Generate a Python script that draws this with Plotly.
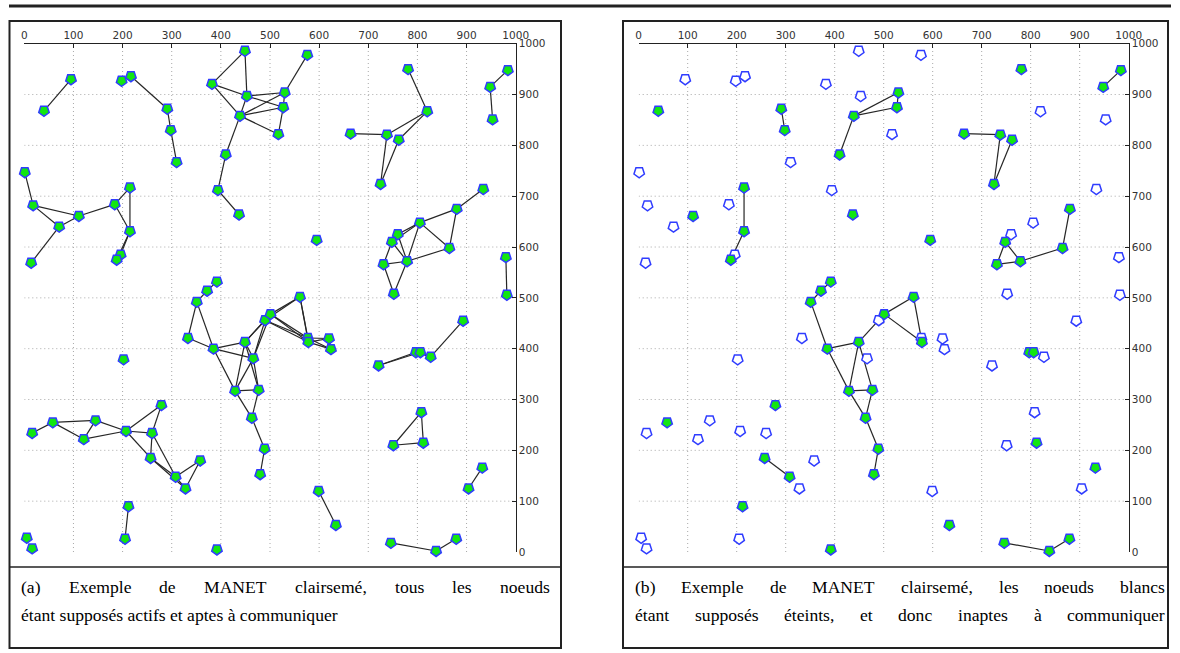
import plotly.graph_objects as go

W, H = 1180, 653

# ---------------- data: node positions (ids 1..100) ----------------
node_x = [449, 95, 40, 198, 217, 291, 298, 310, 382, 453,
          439, 517, 410, 394, 1, 215, 576, 530, 527, 781,
          820, 664, 738, 762, 725, 948, 984, 953, 934, 437,
          18, 111, 184, 215, 71, 14, 196, 188, 392, 372,
          351, 333, 385, 449, 466, 490, 501, 202, 880, 805,
          760, 748, 865, 731, 779, 752, 595, 980, 982, 561,
          577, 578, 620, 624, 721, 797, 806, 827, 893, 429,
          477, 463, 489, 480, 279, 16, 58, 145, 121, 207,
          260, 257, 308, 328, 358, 212, 205, 5, 16, 392,
          808, 751, 812, 932, 904, 599, 634, 746, 838, 879]
node_y = [986, 930, 868, 927, 936, 872, 830, 767, 921, 897,
          858, 822, 782, 712, 747, 717, 978, 904, 875, 950,
          867, 823, 821, 811, 724, 915, 948, 851, 714, 664,
          682, 661, 684, 631, 640, 569, 585, 575, 532, 514,
          492, 421, 400, 413, 381, 456, 468, 379, 675, 648,
          625, 610, 598, 566, 572, 508, 614, 580, 506, 502,
          421, 413, 420, 399, 367, 393, 393, 384, 455, 317,
          319, 264, 203, 153, 289, 234, 255, 259, 222, 238,
          234, 185, 148, 125, 180, 90, 26, 28, 7, 5,
          275, 210, 215, 166, 125, 120, 53, 18, 2, 26]

# nodes still switched on in panel (b)
active_ids = [3, 6, 7, 11, 13, 16, 18, 19, 20, 22, 23, 24, 25, 26, 27, 30,
              32, 34, 38, 39, 40, 41, 43, 44, 47, 49, 52, 53, 54, 55, 57,
              60, 62, 66, 67, 70, 71, 72, 73, 74, 75, 77, 82, 83, 86, 90,
              93, 94, 97, 98, 99, 100]

# links (pairs of node ids)
edges = [(2, 3), (5, 6), (6, 7), (7, 8),
         (1, 9), (1, 10), (9, 10), (9, 11), (10, 11), (11, 12), (11, 13),
         (13, 14), (10, 18), (10, 19), (11, 18), (11, 19), (18, 19),
         (17, 18), (19, 12), (14, 30),
         (20, 21), (21, 23), (21, 24), (22, 23), (23, 25), (24, 25),
         (26, 27), (26, 28),
         (15, 31), (31, 35), (31, 32), (35, 32), (35, 36), (32, 33),
         (33, 16), (33, 34), (16, 34), (34, 37), (34, 38), (37, 38),
         (39, 40), (40, 41), (41, 42), (41, 43), (42, 43), (43, 44),
         (43, 45), (44, 45), (44, 46), (44, 47), (45, 46), (45, 47),
         (46, 47), (47, 60), (46, 60), (60, 61), (60, 62), (46, 61),
         (46, 62), (47, 61), (47, 62), (61, 62), (61, 63), (62, 63),
         (62, 64), (61, 64), (63, 64),
         (43, 70), (44, 70), (44, 71), (45, 70), (45, 71), (70, 71),
         (70, 72), (71, 72), (72, 73), (73, 74),
         (29, 49), (49, 50), (49, 53), (50, 53), (50, 51), (50, 52),
         (50, 55), (51, 52), (51, 55), (52, 54), (52, 55), (54, 55),
         (54, 56), (55, 56), (55, 53), (58, 59),
         (65, 66), (65, 67), (66, 67), (66, 68), (67, 68), (68, 69),
         (91, 92), (91, 93), (92, 93), (94, 95), (96, 97), (98, 99),
         (99, 100), (86, 87),
         (76, 77), (77, 78), (77, 79), (78, 79), (78, 80), (79, 80),
         (80, 75), (80, 81), (80, 82), (75, 81), (81, 82), (81, 83),
         (82, 83), (82, 84), (83, 84), (83, 85), (84, 85)]

tick_vals = [0, 100, 200, 300, 400, 500, 600, 700, 800, 900, 1000]
grid_vals = [100, 200, 300, 400, 500, 600, 700, 800, 900]

caption_a = ["(a) Exemple de MANET clairsemé, tous les noeuds",
             "étant supposés actifs et aptes à communiquer"]
caption_b = ["(b) Exemple de MANET clairsemé, les noeuds blancs",
             "étant supposés éteints, et donc inaptes à communiquer"]

# ---------------- styling ----------------
GREEN = "#12e612"
BLUE = "#2f3cff"
EDGE = "#262626"

fig = go.Figure()


def px_x(p):
    return p / W


def px_y(p):
    return 1 - p / H


ydom = [px_y(552), px_y(43.7)]
xdom_a = [px_x(24.3), px_x(515.7)]
xdom_b = [px_x(638.7), px_x(1128.7)]

active_set = set(active_ids)


def edge_xy(only_active):
    xs, ys = [], []
    for a, b in edges:
        if only_active and (a not in active_set or b not in active_set):
            continue
        xs += [node_x[a - 1], node_x[b - 1], None]
        ys += [node_y[a - 1], node_y[b - 1], None]
    return xs, ys


for panel, (xa, ya) in enumerate([("x", "y"), ("x2", "y2")]):
    only_active = panel == 1
    ex, ey = edge_xy(only_active)
    fig.add_trace(go.Scatter(x=ex, y=ey, mode="lines", xaxis=xa, yaxis=ya,
                             line=dict(color=EDGE, width=1.2),
                             hoverinfo="skip", showlegend=False, cliponaxis=False))
    fills = []
    for i in range(len(node_x)):
        on = (not only_active) or ((i + 1) in active_set)
        fills.append(GREEN if on else "white")
    fig.add_trace(go.Scatter(x=node_x, y=node_y, mode="markers", xaxis=xa, yaxis=ya,
                             marker=dict(symbol="pentagon", angle=180, size=11,
                                         color=fills,
                                         line=dict(color=BLUE, width=1.5)),
                             showlegend=False, cliponaxis=False))

axis_common = dict(range=[0, 1000], tickvals=tick_vals,
                   ticktext=[str(v) for v in tick_vals], automargin=False,
                   showgrid=False, zeroline=False, showline=True,
                   linecolor="#222", linewidth=1, ticks="inside", ticklen=4,
                   tickcolor="#222", fixedrange=True,
                   tickfont=dict(family="DejaVu Sans", size=10.5, color="#333"))

fig.update_layout(
    width=W, height=H, margin=dict(l=0, r=0, t=0, b=0, pad=0),
    paper_bgcolor="white", plot_bgcolor="white",
    xaxis=dict(domain=xdom_a, anchor="y", side="top", **axis_common),
    yaxis=dict(domain=ydom, anchor="x", side="right", **axis_common),
    xaxis2=dict(domain=xdom_b, anchor="y2", side="top", **axis_common),
    yaxis2=dict(domain=ydom, anchor="x2", side="right", **axis_common),
)

shapes = []
# dotted grid
for xa, ya in [("x", "y"), ("x2", "y2")]:
    for g in grid_vals:
        shapes.append(dict(type="line", xref=xa, yref=ya, x0=g, x1=g, y0=0, y1=1000,
                           line=dict(color="#a8a8a8", width=1, dash="1px,3px"), layer="below"))
        shapes.append(dict(type="line", xref=xa, yref=ya, x0=0, x1=1000, y0=g, y1=g,
                           line=dict(color="#a8a8a8", width=1, dash="1px,3px"), layer="below"))

# top rule
shapes.append(dict(type="line", xref="paper", yref="paper", x0=px_x(9), x1=px_x(1171),
                   y0=px_y(6), y1=px_y(6), line=dict(color="#222", width=3)))
# panel boxes and caption separators
for bx0, bx1 in [(9.5, 561), (623, 1168)]:
    shapes.append(dict(type="rect", xref="paper", yref="paper", x0=px_x(bx0), x1=px_x(bx1),
                       y0=px_y(648), y1=px_y(21), line=dict(color="#222", width=2)))
    shapes.append(dict(type="line", xref="paper", yref="paper", x0=px_x(bx0), x1=px_x(bx1),
                       y0=px_y(567), y1=px_y(567), line=dict(color="#222", width=1.5)))
fig.update_layout(shapes=shapes)

# ---------------- captions (justified like the source) ----------------
TW = {" ": 250, "(": 333, ")": 333, ",": 250, "a": 444, "b": 500, "c": 444, "d": 500,
      "e": 444, "f": 333, "g": 500, "h": 500, "i": 278, "j": 278, "k": 500, "l": 278,
      "m": 778, "n": 500, "o": 500, "p": 500, "q": 500, "r": 333, "s": 389, "t": 278,
      "u": 500, "v": 500, "w": 722, "x": 500, "y": 500, "z": 444, "é": 444, "à": 444,
      "A": 722, "E": 611, "M": 889, "N": 722, "T": 611}
FS = 17.6


def tw(s):
    return sum(TW.get(c, 500) for c in s) / 1000 * FS


annots = []


def add_line(text, x0, x1, yc, justify):
    if not justify:
        annots.append(dict(text=text, x=px_x(x0), y=px_y(yc), xref="paper", yref="paper",
                           xanchor="left", yanchor="middle", showarrow=False,
                           font=dict(family="Liberation Serif", size=FS, color="black")))
        return
    words = text.split(" ")
    total = sum(tw(w) for w in words)
    gap = (x1 - x0 - total) / (len(words) - 1)
    x = x0
    for w in words:
        annots.append(dict(text=w, x=px_x(x), y=px_y(yc), xref="paper", yref="paper",
                           xanchor="left", yanchor="middle", showarrow=False,
                           font=dict(family="Liberation Serif", size=FS, color="black")))
        x += tw(w) + gap


add_line(caption_a[0], 19, 548, 587, True)
add_line(caption_a[1], 19, None, 615, False)
add_line(caption_b[0], 633, 1163, 587, True)
add_line(caption_b[1], 633, 1163, 615, True)
fig.update_layout(annotations=annots)

fig.write_html("out.html", config={"displayModeBar": False},
               post_script="document.body.style.margin='0';document.body.style.overflow='hidden';")
